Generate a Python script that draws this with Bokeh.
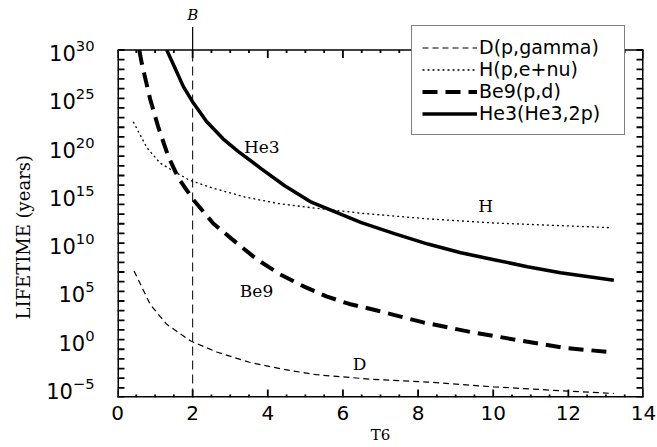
import math
from bokeh.plotting import figure
from bokeh.models import (LinearAxis, FixedTicker, Legend, LegendItem, Range1d, Title,
                          ColumnDataSource)
from bokeh.core.properties import value
from bokeh.embed import file_html
from bokeh.resources import INLINE

# ---- data (T6, lifetime in years) ----
D_T6 = [0.44, 0.87, 1.31, 1.95, 2.64, 3.51, 4.41, 5.29, 6.80, 8.26, 10.02, 11.6, 13.21]
D_LIFE = [1.3e7, 4.4e3, 38, 0.71, 5.2e-2, 4.5e-3, 8.3e-4, 2.3e-4, 7.6e-5, 4.0e-5, 1.26e-5, 5.6e-6, 2.6e-6]

H_T6 = [0.42, 0.78, 1.13, 1.49, 1.92, 2.50, 3.39, 4.27, 5.16, 6.49, 8.26, 10.02, 13.1]
H_LIFE = [3.6e22, 7.9e19, 2.0e18, 2.8e17, 3.2e16, 5.5e15, 5.9e14, 1.26e14, 4.6e13, 1.23e13, 3.2e12, 1.2e12, 4.0e11]

BE9_T6 = [0.58, 0.65, 0.87, 1.09, 1.35, 1.62, 2.02, 2.55, 3.03, 3.70, 4.32, 4.94, 5.56, 6.17,
          6.88, 8.14, 9.38, 10.65, 11.88, 13.1]
BE9_LIFE = [1e30, 3.5e28, 7.9e24, 8.9e21, 1e19, 5.5e16, 3.0e14, 1.07e12, 2.9e10, 2.2e8, 5.9e6,
            3.5e5, 3.0e4, 4.9e3, 1.1e3, 60, 6.3, 0.89, 0.14, 0.051]

HE3_T6 = [1.31, 1.53, 1.75, 2.02, 2.37, 2.81, 3.21, 3.83, 4.45, 5.16, 6.49, 7.37, 8.26, 9.14,
          10.02, 10.91, 11.79, 13.21]
HE3_LIFE = [1e30, 1.4e28, 1.7e26, 3.2e24, 4.0e22, 6.3e20, 3.2e19, 4.9e17, 8.7e15, 1.7e14, 1.3e12,
            9.5e10, 7.9e9, 1.0e9, 1.9e8, 3.5e7, 8.5e6, 1.4e6]

LEGEND_LABELS = ["D(p,gamma)", "H(p,e+nu)", "Be9(p,d)", "He3(He3,2p)"]

CURVE_LABELS = ["He3", "H", "Be9", "D"]
CURVE_LABEL_T6 = [3.84, 9.80, 3.70, 6.44]
CURVE_LABEL_LIFE = [1e20, 6.9e13, 1.15e5, 2.7e-3]

X_TICKS = [0, 2, 4, 6, 8, 10, 12, 14]
X_MINOR = [0.5, 1, 1.5, 2.5, 3, 3.5, 4.5, 5, 5.5, 6.5, 7, 7.5, 8.5, 9, 9.5,
           10.5, 11, 11.5, 12.5, 13, 13.5]
Y_TICKS = [1e-5, 1e0, 1e5, 1e10, 1e15, 1e20, 1e25, 1e30]
Y_DECADES = [10.0 ** k for k in range(-6, 31)]

B_T6 = 2
B_LABEL = "B"
Y_TITLE = "LIFETIME (years)"

X_RANGE = (0.0, 14.0)
Y_BOX = (1e-6, 1e30)          # the drawn box
Y_TOP = 10 ** 32.54           # headroom above the box for the legend / B tick

# tick lengths (pixels) and the approximate pixel scale of the frame
PX_PER_X = 37.64
PX_PER_DECADE = 9.65
TICK_Y_LEN = 7
TICK_MAJOR = 8
TICK_MINOR = 3

INK = "#000000"

p = figure(width=657, height=447, output_backend="svg", toolbar_location=None,
           y_axis_type="log", x_range=Range1d(*X_RANGE), y_range=Range1d(Y_BOX[0], Y_TOP),
           min_border_left=116, min_border_right=14, min_border_top=25, min_border_bottom=50,
           background_fill_color="white", border_fill_color="white")
p.xgrid.visible = False
p.ygrid.visible = False
p.outline_line_color = None

# bottom axis (labels + title only; ticks drawn inside the box below)
xa = p.xaxis[0]
xa.ticker = FixedTicker(ticks=X_TICKS, minor_ticks=[])
xa.major_tick_in = 0
xa.major_tick_out = 0
xa.minor_tick_in = 0
xa.minor_tick_out = 0
xa.axis_line_color = None
xa.major_label_text_font = "DejaVu Sans"
xa.major_label_text_font_size = "20px"
xa.major_label_text_color = INK
xa.major_label_standoff = 8
xa.axis_label = "T6"
xa.axis_label_text_font = "DejaVu Serif"
xa.axis_label_text_font_style = "normal"
xa.axis_label_text_font_size = "15px"
xa.axis_label_text_color = INK
xa.axis_label_standoff = 3

# left axis
ya = p.yaxis[0]
ya.ticker = FixedTicker(ticks=Y_TICKS, minor_ticks=[])
ya.major_tick_in = 0
ya.major_tick_out = 0
ya.minor_tick_in = 0
ya.minor_tick_out = 0
ya.axis_line_color = None
ya.major_label_text_font = "DejaVu Sans"
ya.major_label_text_font_size = "21px"
ya.major_label_text_color = INK
ya.major_label_standoff = 23

# y title, centred on the box (not on the headroom) by trailing no-break spaces
p.add_layout(Title(text=Y_TITLE + "\u00a0" * 9, align="center", standoff=20,
                   text_font="DejaVu Serif", text_font_style="normal",
                   text_font_size="18px", text_color=INK), "left")

# top axis: carries only the "B" marker label
top = LinearAxis(ticker=FixedTicker(ticks=[B_T6], minor_ticks=[]),
                 major_label_overrides={B_T6: B_LABEL},
                 major_tick_in=0, major_tick_out=0, minor_tick_in=0, minor_tick_out=0,
                 axis_line_color=None, major_label_standoff=2,
                 major_label_text_font="DejaVu Serif", major_label_text_font_style="italic",
                 major_label_text_font_size="15px", major_label_text_color=INK)
p.add_layout(top, "above")

# curves
r_d = p.line(D_T6, D_LIFE, line_color=INK, line_width=1.2, line_dash="6 4")
r_h = p.line(H_T6, H_LIFE, line_color=INK, line_width=1.3, line_dash="2 3")
r_be = p.line(BE9_T6, BE9_LIFE, line_color=INK, line_width=4, line_dash="15 8")
r_he = p.line(HE3_T6, HE3_LIFE, line_color=INK, line_width=3.5)

# blank headroom above the box
p.quad(left=[X_RANGE[0]], right=[X_RANGE[1]], bottom=[Y_BOX[1]], top=[Y_TOP],
       fill_color="white", line_color=None)

# box edges and inward ticks, all in one segment source
x0, y0, x1, y1, lw = [], [], [], [], []


def seg(a, b, c, d, w):
    x0.append(float(a)); y0.append(float(b)); x1.append(float(c)); y1.append(float(d))
    lw.append(w)


seg(X_RANGE[0], Y_BOX[0], X_RANGE[0], Y_BOX[1], 3)
seg(X_RANGE[1], Y_BOX[0], X_RANGE[1], Y_BOX[1], 3)
seg(X_RANGE[0], Y_BOX[0], X_RANGE[1], Y_BOX[0], 3)
seg(X_RANGE[0], Y_BOX[1], X_RANGE[1], Y_BOX[1], 1.5)
dx = TICK_Y_LEN / PX_PER_X
for yv in Y_DECADES:
    seg(X_RANGE[0], yv, X_RANGE[0] + dx, yv, 1.8)
    seg(X_RANGE[1] - dx, yv, X_RANGE[1], yv, 1.8)
for xs, ln in ((X_TICKS, TICK_MAJOR), (X_MINOR, TICK_MINOR)):
    f = 10 ** (ln / PX_PER_DECADE)
    for xv in xs:
        seg(xv, Y_BOX[0], xv, Y_BOX[0] * f, 1.8)
        seg(xv, Y_BOX[1], xv, Y_BOX[1] / f, 1.8)
frame_src = ColumnDataSource(data=dict(x0=x0, y0=y0, x1=x1, y1=y1, lw=lw))
p.segment(x0="x0", y0="y0", x1="x1", y1="y1", line_width="lw", line_color=INK,
          source=frame_src)

# B marker: dashed inside the box, solid tick above it
p.segment(x0=[B_T6], y0=[Y_BOX[0]], x1=[B_T6], y1=[Y_BOX[1]],
          line_color=INK, line_width=1, line_dash="9 5")
p.ray(x=[B_T6], y=[Y_BOX[1]], length=23, angle=math.pi / 2, length_units="screen",
      line_color=INK, line_width=1.2)

# curve labels
p.text(x=CURVE_LABEL_T6, y=CURVE_LABEL_LIFE, text=CURVE_LABELS,
       text_font=value("DejaVu Serif"), text_font_size="17px", text_color=INK,
       text_align="center", text_baseline="middle")

legend = Legend(items=[LegendItem(label=LEGEND_LABELS[0], renderers=[r_d]),
                       LegendItem(label=LEGEND_LABELS[1], renderers=[r_h]),
                       LegendItem(label=LEGEND_LABELS[2], renderers=[r_be]),
                       LegendItem(label=LEGEND_LABELS[3], renderers=[r_he])],
                location=(294, 262),
                label_text_font="DejaVu Sans", label_text_font_size="19px",
                label_text_color=INK,
                glyph_width=55, glyph_height=21, label_height=21, label_width=135,
                label_standoff=2, spacing=0, padding=10, margin=0,
                border_line_color=INK, border_line_width=1.5,
                background_fill_color="white", background_fill_alpha=1.0)
p.add_layout(legend, "center")

open("out.html", "w").write(file_html(p, INLINE))
